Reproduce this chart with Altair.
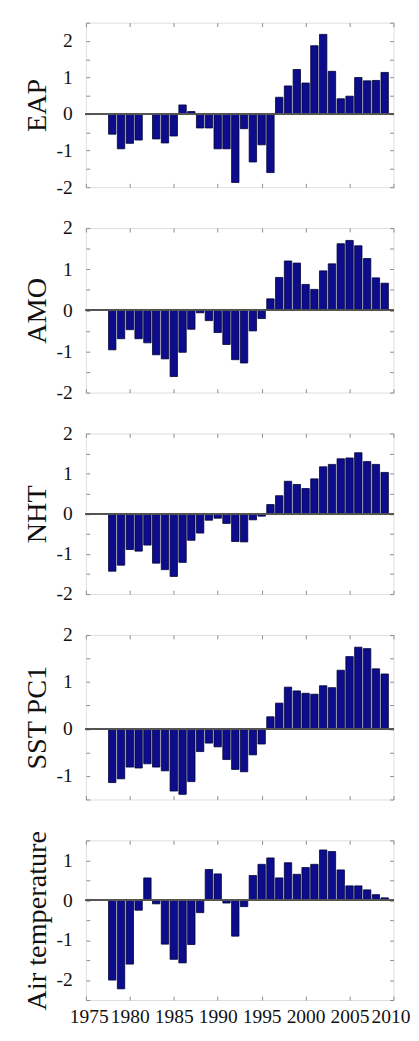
import altair as alt
import pandas as pd

years = list(range(1978, 2010))

eap = [-0.55, -0.95, -0.8, -0.71, 0.0, -0.68, -0.79, -0.6, 0.25, 0.07,
       -0.38, -0.38, -0.95, -0.95, -1.87, -0.4, -1.31, -0.84, -1.6,
       0.46, 0.77, 1.22, 0.85, 1.87, 2.18, 1.17, 0.42, 0.49, 1.0, 0.91, 0.92, 1.14]
amo = [-0.96, -0.69, -0.47, -0.69, -0.79, -1.08, -1.18, -1.61, -1.02, -0.46,
       -0.06, -0.25, -0.54, -0.83, -1.2, -1.28, -0.5, -0.2,
       0.28, 0.8, 1.2, 1.15, 0.63, 0.51, 0.96, 1.13, 1.62, 1.7, 1.57, 1.26, 0.79, 0.66]
nht = [-1.43, -1.28, -0.89, -0.93, -0.78, -1.23, -1.39, -1.56, -1.21, -0.66,
       -0.48, -0.16, -0.11, -0.24, -0.69, -0.7, -0.15, -0.06,
       0.23, 0.45, 0.81, 0.73, 0.63, 0.87, 1.17, 1.23, 1.37, 1.39, 1.52, 1.3, 1.23, 1.03]
sst = [-1.14, -1.06, -0.81, -0.83, -0.74, -0.81, -0.89, -1.32, -1.39, -1.12,
       -0.48, -0.3, -0.38, -0.65, -0.86, -0.91, -0.55, -0.32,
       0.26, 0.55, 0.89, 0.81, 0.76, 0.74, 0.92, 0.88, 1.25, 1.54, 1.74, 1.71, 1.28, 1.17]
air = [-2.0, -2.22, -1.6, -0.25, 0.56, -0.09, -1.1, -1.48, -1.57, -1.11,
       -0.31, 0.77, 0.66, -0.07, -0.9, -0.16, 0.62, 0.9, 1.06, 0.56,
       0.94, 0.65, 0.82, 0.9, 1.26, 1.22, 0.76, 0.36, 0.36, 0.26, 0.14, 0.06]

names = ["EAP", "AMO", "NHT", "SST PC1", "Air temperature"]
series = [eap, amo, nht, sst, air]
y_domains = [[-2, 2.5], [-2, 2], [-2, 2], [-1.5, 2], [-2.5, 1.5]]
x_ticks = [1975, 1980, 1985, 1990, 1995, 2000, 2005, 2010]

FONT = "Liberation Serif"
BAR_FILL = "#0c0c8c"
BAR_EDGE = "#000035"
TICK_COLOR = "#8a8a8a"

PLOT_W = 316
heights = [169, 169, 165, 169, 164]


def panel(name, values, dom, h, bottom):
    df = pd.DataFrame({"year": years, "value": values})
    n = int(round((dom[1] - dom[0]) / 0.5)) + 1
    y_ticks = [dom[0] + 0.5 * i for i in range(n)]
    xs = alt.Scale(domain=[1975, 2010], nice=False, zero=False)
    ys = alt.Scale(domain=dom, nice=False, zero=False)
    common = dict(domain=False, grid=False, tickSize=4, tickColor=TICK_COLOR,
                  offset=-4, labelFont=FONT, labelFontSize=20, labelColor="#111")
    base = alt.Chart(df).transform_calculate(
        x0="datum.year - 0.42", x1="datum.year + 0.42")
    bars = base.mark_bar(color=BAR_FILL, stroke=BAR_EDGE, strokeWidth=0.8).encode(
        x=alt.X("x0:Q", scale=xs, axis=alt.Axis(
            orient="bottom", values=x_ticks, format="d", labels=bottom,
            labelPadding=7, title=None, labelOverlap=False,
            labelFlush=True, labelFlushOffset=17, **common)),
        x2="x1:Q",
        y=alt.Y("value:Q", scale=ys, axis=alt.Axis(
            orient="left", values=y_ticks,
            labelExpr="datum.value % 1 == 0 ? '' + datum.value : ''",
            labelPadding=14, title=name, titleFont=FONT, titleFontSize=29,
            titleFontWeight="normal", titleColor="#111", titleAngle=-90,
            titleAlign="center", titleBaseline="alphabetic",
            titleX=-45, titleY=h / 2, **common)),
        y2=alt.datum(0),
    )
    ghost = base.mark_bar(opacity=0).encode(
        x=alt.X("x0:Q", scale=xs, axis=alt.Axis(
            orient="top", values=x_ticks, labels=False, title=None, **common)),
        x2="x1:Q",
        y=alt.Y("value:Q", scale=ys, axis=alt.Axis(
            orient="right", values=y_ticks, labels=False, title=None, **common)),
        y2=alt.datum(0),
    )
    zero = alt.Chart(df).mark_rule(color="#555", strokeWidth=1).encode(
        y=alt.YDatum(0, scale=ys, axis=None))
    return alt.layer(bars, ghost, zero).resolve_axis(
        x="independent", y="independent").properties(width=PLOT_W, height=h)


panels = [panel(nm, s, d, h, i == 4)
          for i, (nm, s, d, h) in enumerate(zip(names, series, y_domains, heights))]

chart = alt.VConcatChart(vconcat=panels, spacing=42, bounds="flush").properties(
    padding={"left": 15, "top": 0, "right": 0, "bottom": 0}
).configure_view(stroke="#9a9a9a", strokeWidth=1).configure(background="white")

chart.save("out.html", embed_options={"renderer": "svg", "actions": False})
